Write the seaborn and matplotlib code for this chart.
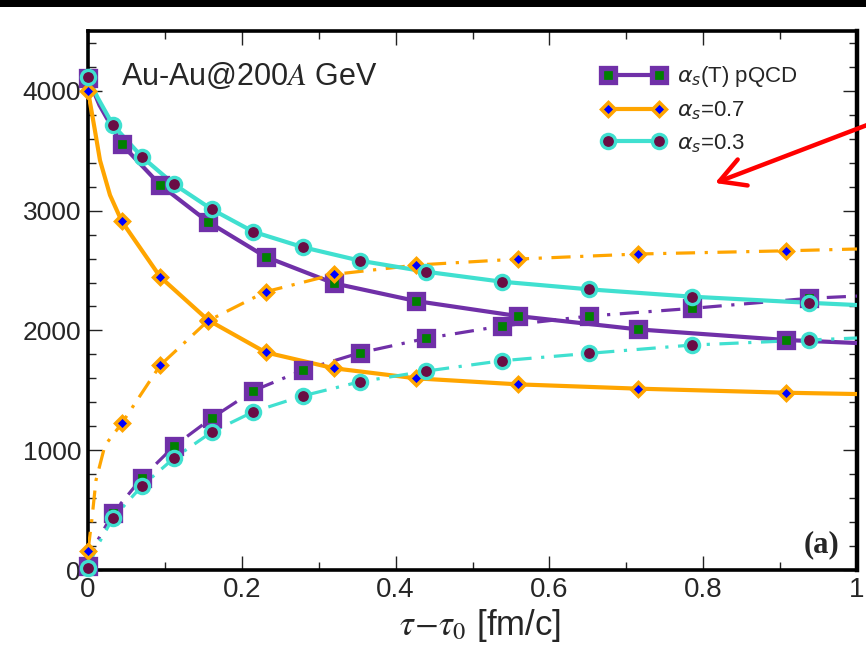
import numpy as np
import pandas as pd
import matplotlib
matplotlib.use("Agg")
import matplotlib.pyplot as plt
import seaborn as sns
from matplotlib.lines import Line2D
from matplotlib.patches import Rectangle
from matplotlib.ticker import MultipleLocator

# ---------------- data ----------------
# marker positions, grid A (pQCD decreasing, both alpha_s=0.7 curves)
x_grid_a = [0.0, 0.044, 0.094, 0.156, 0.231, 0.320, 0.427, 0.559, 0.715, 0.908]
# marker positions, grid B (pQCD increasing, both alpha_s=0.3 curves)
x_grid_b = [0.0, 0.0325, 0.070, 0.112, 0.161, 0.215, 0.280, 0.354, 0.440, 0.538, 0.652, 0.785, 0.937]

pqcd_dec = [4110, 3553, 3214, 2907, 2615, 2393, 2245, 2120, 2009, 1920]
pqcd_inc = [30, 475, 768, 1035, 1269, 1497, 1669, 1814, 1934, 2037, 2120, 2184, 2268]
a07_dec = [4000, 2910, 2446, 2087, 1817, 1684, 1600, 1550, 1514, 1480]
a07_inc = [160, 1225, 1710, 2080, 2323, 2468, 2546, 2596, 2638, 2665]
a03_dec = [4118, 3715, 3450, 3220, 3011, 2824, 2694, 2582, 2490, 2407, 2343, 2282, 2231]
a03_inc = [20, 434, 701, 935, 1152, 1321, 1455, 1572, 1661, 1747, 1809, 1878, 1920]

# extra points (steep start and right edge)
pqcd_dec_extra_x, pqcd_dec_extra_y = [0.015, 1.0], [3880, 1895]
pqcd_inc_extra_x, pqcd_inc_extra_y = [0.012, 1.0], [240, 2287]
a07_dec_extra_x, a07_dec_extra_y = [0.009, 0.0156, 0.0286, 1.0], [3670, 3420, 3130, 1469]
a07_inc_extra_x, a07_inc_extra_y = [0.005, 0.0104, 0.022, 1.0], [420, 750, 1040, 2680]
a03_dec_extra_x, a03_dec_extra_y = [0.012, 1.0], [3950, 2212]
a03_inc_extra_x, a03_inc_extra_y = [0.012, 1.0], [200, 1937]

labels = [r"$\alpha_s$(T) pQCD", r"$\alpha_s$=0.7", r"$\alpha_s$=0.3"]
x_ticks = [0, 0.2, 0.4, 0.6, 0.8, 1.0]
x_ticklabels = ["0", "0.2", "0.4", "0.6", "0.8", "1"]
y_ticks = [0, 1000, 2000, 3000, 4000]
y_ticklabels = ["0", "1000", "2000", "3000", "4000"]

# ---------------- style ----------------
sns.set_theme(style="ticks")
plt.rcParams["font.family"] = ["Liberation Sans", "DejaVu Sans"]
plt.rcParams["mathtext.fontset"] = "dejavusans"

PURPLE = "#7030A8"
GREEN = "#008000"
ORANGE = "#FFA500"
BLUE = "#0000FF"
TURQ = "#40E0D0"
MAROON = "#6A0D45"

DASHDOT = (0, (6, 3, 1, 3))

mk_sq = dict(marker="s", markersize=9.6, markerfacecolor=GREEN, markeredgecolor=PURPLE, markeredgewidth=3.8)
mk_di = dict(marker="D", markersize=6.8, markerfacecolor=BLUE, markeredgecolor=ORANGE, markeredgewidth=2.5)
mk_ci = dict(marker="o", markersize=10.2, markerfacecolor=MAROON, markeredgecolor=TURQ, markeredgewidth=2.4)

fig = plt.figure(figsize=(8.66, 6.53), dpi=100)
ax = fig.add_axes([88 / 866, 1 - 570 / 653, (857 - 88) / 866, (570 - 31) / 653])


def curve(xm, ym, xe, ye):
    df = pd.DataFrame({"x": list(xm) + list(xe), "y": list(ym) + list(ye)})
    return df.sort_values("x")


series = [
    (x_grid_a, pqcd_dec, pqcd_dec_extra_x, pqcd_dec_extra_y, PURPLE, "-", 3.0, mk_sq, 3),
    (x_grid_b, pqcd_inc, pqcd_inc_extra_x, pqcd_inc_extra_y, PURPLE, DASHDOT, 2.3, mk_sq, 3),
    (x_grid_a, a07_dec, a07_dec_extra_x, a07_dec_extra_y, ORANGE, "-", 3.0, mk_di, 4),
    (x_grid_a, a07_inc, a07_inc_extra_x, a07_inc_extra_y, ORANGE, DASHDOT, 2.3, mk_di, 4),
    (x_grid_b, a03_dec, a03_dec_extra_x, a03_dec_extra_y, TURQ, "-", 3.0, mk_ci, 5),
    (x_grid_b, a03_inc, a03_inc_extra_x, a03_inc_extra_y, TURQ, DASHDOT, 2.3, mk_ci, 5),
]

for xm, ym, xe, ye, col, ls, lw, mk, z in series:
    df = curve(xm, ym, xe, ye)
    sns.lineplot(data=df, x="x", y="y", ax=ax, color=col, linewidth=lw, linestyle=ls,
                 estimator=None, legend=False, zorder=z, solid_capstyle="butt")
for xm, ym, xe, ye, col, ls, lw, mk, z in series:
    sns.lineplot(x=xm, y=ym, ax=ax, color=col, linestyle="none", estimator=None,
                 legend=False, zorder=z + 3, clip_on=False, **mk)

# ---------------- axes ----------------
ax.set_xlim(0, 1)
ax.set_ylim(0, 4500)
ax.set_xticks(x_ticks)
ax.set_xticklabels(x_ticklabels)
ax.set_yticks(y_ticks)
ax.set_yticklabels(y_ticklabels)
ax.xaxis.set_minor_locator(MultipleLocator(0.1))
ax.yaxis.set_minor_locator(MultipleLocator(200))
ax.tick_params(which="both", direction="in", top=True, right=True, color="#222222", width=1.0)
ax.tick_params(which="major", length=10)
ax.tick_params(which="minor", length=5.5)
ax.tick_params(axis="y", labelsize=19, pad=5)
ax.tick_params(axis="x", labelsize=20, pad=5)
for sp in ax.spines.values():
    sp.set_linewidth(2.6)
    sp.set_color("black")
ax.spines["right"].set_linewidth(3.2)
ax.set_xlabel("")
ax.set_ylabel("")
ax.text(0.51, -0.103, r"$\tau\!-\!\tau_0$ [fm/c]", transform=ax.transAxes, ha="center", va="center",
        fontsize=25, math_fontfamily="stix")

ax.text(0.043, 0.900, r"Au-Au@200$A$ GeV", transform=ax.transAxes, ha="left", va="baseline",
        fontsize=22, math_fontfamily="stix")
ax.text(0.977, 0.033, "(a)", transform=ax.transAxes, ha="right", va="baseline",
        fontsize=22, fontweight="bold", family=["Liberation Serif", "DejaVu Serif"])

handles = [
    Line2D([], [], color=PURPLE, linewidth=3.0, **mk_sq),
    Line2D([], [], color=ORANGE, linewidth=3.0, **mk_di),
    Line2D([], [], color=TURQ, linewidth=3.0, **mk_ci),
]
leg = ax.legend(handles, labels, loc="upper left", bbox_to_anchor=(0.668, 0.938), frameon=False,
                numpoints=2, handlelength=2.9, handletextpad=0.5, fontsize=16,
                borderpad=0, borderaxespad=0, labelspacing=0.45)

# ---------------- overlays from the screenshot ----------------
fig.add_artist(Rectangle((0, 1 - 7 / 653), 1, 7 / 653, transform=fig.transFigure,
                         facecolor="black", edgecolor="none", zorder=10))
ax.annotate("", xy=(715, 653 - 183), xycoords="figure pixels",
            xytext=(875, 653 - 122), textcoords="figure pixels",
            arrowprops=dict(arrowstyle="->,head_length=0.9,head_width=0.5", color="red",
                            lw=3.2, mutation_scale=20, shrinkA=0, shrinkB=0),
            annotation_clip=False, zorder=20)

fig.savefig("out.png", dpi=100)
